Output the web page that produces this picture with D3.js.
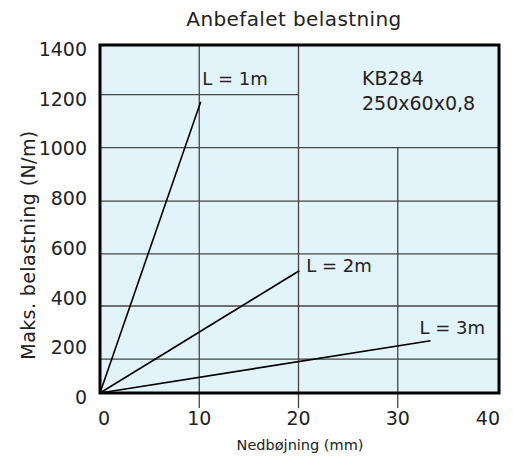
<!DOCTYPE html>
<html><head><meta charset="utf-8">
<script src="https://cdn.jsdelivr.net/npm/d3@7"></script>
<style>
body{margin:0;background:#fff}
text{font-family:"DejaVu Sans",sans-serif;fill:#222}
</style>
</head><body><svg id="c" width="513" height="460"></svg>
<script>
// ---- data ----
const seriesNames = ["L = 1m", "L = 2m", "L = 3m"];
const endDeflection = [10.15, 20.08, 33.3];   // mm
const endLoad = [1172, 492, 210];             // N/m
const xTicks = [0, 10, 20, 30, 40];
const yTicks = [0, 200, 400, 600, 800, 1000, 1200, 1400];
const gridYValues = [136, 350, 560, 772, 987, 1200];
const gridYToX = [40, 40, 40, 40, 40, 20];
const gridXValues = [10, 20, 30];
const gridXToY = [1400, 1400, 987];
const titleText = "Anbefalet belastning";
const xTitleText = "Nedbøjning (mm)";
const yTitleText = "Maks. belastning  (N/m)";
const infoLines = ["KB284", "250x60x0,8"];

// ---- chart ----
const svg = d3.select("#c");
const x = d3.scaleLinear().domain([0, 40]).range([100, 497]);
const y = d3.scaleLinear().domain([0, 1400]).range([393, 45]);

// background
svg.append("rect")
  .attr("x", x(0)).attr("y", y(1400))
  .attr("width", x(40) - x(0) + 2).attr("height", y(0) - y(1400))
  .attr("fill", "#e2f3fa");

// grid
const g = svg.append("g").attr("stroke", "#454545").attr("stroke-width", 1.3);
gridYValues.forEach((v, i) => {
  g.append("line").attr("x1", x(0)).attr("x2", x(gridYToX[i]) + (gridYToX[i] === 40 ? 2 : 0))
    .attr("y1", y(v)).attr("y2", y(v));
});
gridXValues.forEach((v, i) => {
  g.append("line").attr("x1", x(v)).attr("x2", x(v))
    .attr("y1", y(gridXToY[i])).attr("y2", y(0) + 15);
});

// series lines
const line = d3.line().x(d => x(d[0])).y(d => y(d[1]));
seriesNames.forEach((n, i) => {
  svg.append("path")
    .attr("d", line([[0, 0], [endDeflection[i], endLoad[i]]]))
    .attr("fill", "none").attr("stroke", "#000").attr("stroke-width", 1.6);
});

// frame
svg.append("rect")
  .attr("x", x(0)).attr("y", y(1400))
  .attr("width", x(40) - x(0) + 2).attr("height", y(0) - y(1400))
  .attr("fill", "none").attr("stroke", "#000").attr("stroke-width", 3);

// y tick labels
svg.append("g").selectAll("text").data(yTicks).join("text")
  .attr("x", 87).attr("y", d => y(d) + 4)
  .attr("text-anchor", "end").attr("dominant-baseline", "central")
  .attr("font-size", 19).text(d => d);

// x tick labels
svg.append("g").selectAll("text").data(xTicks).join("text")
  .attr("x", (d, i) => i === 0 ? x(d) - 2 : (i === xTicks.length - 1 ? x(d) + 3 : x(d)))
  .attr("y", 425)
  .attr("text-anchor", (d, i) => i === 0 ? "start" : (i === xTicks.length - 1 ? "end" : "middle"))
  .attr("font-size", 19).text(d => d);

// titles
svg.append("text").attr("x", 294).attr("y", 26).attr("text-anchor", "middle")
  .attr("font-size", 20).attr("letter-spacing", 0.4).text(titleText);
svg.append("text").attr("x", 300).attr("y", 450).attr("text-anchor", "middle")
  .attr("font-size", 14.5).text(xTitleText);
svg.append("text").attr("transform", "translate(35,245) rotate(-90)")
  .attr("text-anchor", "middle").attr("font-size", 19).attr("letter-spacing", 0.4)
  .text(yTitleText);

// series labels
svg.append("text").attr("x", x(10) + 3).attr("y", y(1200) - 10)
  .attr("font-size", 18).text(seriesNames[0]);
svg.append("text").attr("x", x(endDeflection[1]) + 7).attr("y", y(endLoad[1]) + 1)
  .attr("font-size", 18).text(seriesNames[1]);
svg.append("text").attr("x", x(endDeflection[2]) - 11).attr("y", y(endLoad[2]) - 7)
  .attr("font-size", 18).text(seriesNames[2]);

// info text
infoLines.forEach((t, i) => {
  svg.append("text").attr("x", x(26.4)).attr("y", 85 + i * 25)
    .attr("font-size", 19).text(t);
});
</script>
</body></html>
